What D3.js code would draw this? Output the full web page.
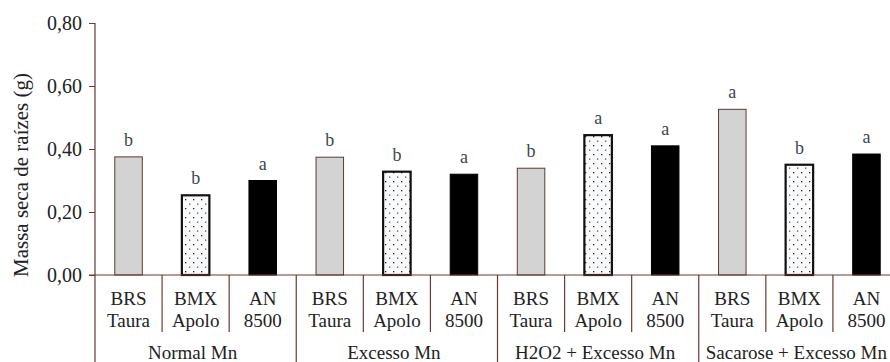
<!DOCTYPE html>
<html>
<head>
<meta charset="utf-8">
<script src="https://cdn.jsdelivr.net/npm/d3@7"></script>
</head>
<body style="margin:0;background:#fff">
<svg id="chart" width="890" height="362" style="display:block"></svg>
<script>
const groups = ["Normal Mn", "Excesso Mn", "H2O2 + Excesso Mn", "Sacarose + Excesso Mn"];
const cultivars = ["BRS Taura", "BMX Apolo", "AN 8500"];
const cultivarLines = [["BRS", "Taura"], ["BMX", "Apolo"], ["AN", "8500"]];
const brsTaura = [0.375, 0.374, 0.339, 0.526];
const bmxApolo = [0.253, 0.328, 0.444, 0.350];
const an8500 = [0.300, 0.320, 0.410, 0.384];
const brsLetters = ["b", "b", "b", "a"];
const bmxLetters = ["b", "b", "a", "b"];
const anLetters = ["a", "a", "a", "a"];
const yTicks = [0, 0.2, 0.4, 0.6, 0.8];
const yTitle = "Massa seca de raízes (g)";

const seriesValues = [brsTaura, bmxApolo, an8500];
const seriesLetters = [brsLetters, bmxLetters, anLetters];

const FONT = "'Liberation Serif'";
const svg = d3.select("#chart");
const lineColor = "#6a3a32";
const x0 = 95, x1 = 900, yTop = 23, yZero = 275;

const y = d3.scaleLinear().domain([0, 0.8]).range([yZero, yTop]);
const xg = d3.scaleBand().domain(groups).range([x0, x1]).padding(0);
const xc = d3.scaleBand().domain(cultivars).range([0, xg.bandwidth()]).padding(0);
const barW = xc.bandwidth() * 0.41;

const defs = svg.append("defs");
const pat = defs.append("pattern").attr("id", "dots").attr("patternUnits", "userSpaceOnUse")
  .attr("width", 8).attr("height", 9);
pat.append("rect").attr("width", 8).attr("height", 9).attr("fill", "#fbfbfb");
pat.append("rect").attr("x", 1).attr("y", 1).attr("width", 1.3).attr("height", 1.3).attr("fill", "#222");
pat.append("rect").attr("x", 5).attr("y", 5.5).attr("width", 1.3).attr("height", 1.3).attr("fill", "#3a6080");

const records = [];
groups.forEach((g, gi) => {
  cultivars.forEach((c, ci) => {
    records.push({ g, c, ci, v: seriesValues[ci][gi], letter: seriesLetters[ci][gi] });
  });
});

const styles = [
  { fill: "#d3d3d3", stroke: "#5a3a30", sw: 1 },
  { fill: "url(#dots)", stroke: "#111", sw: 2.2 },
  { fill: "#000", stroke: "#000", sw: 1 }
];

const cx = d => xg(d.g) + xc(d.c) + xc.bandwidth() / 2;

svg.append("g").selectAll("rect").data(records).join("rect")
  .attr("x", d => cx(d) - barW / 2)
  .attr("y", d => y(d.v))
  .attr("width", barW)
  .attr("height", d => y(0) - y(d.v))
  .attr("fill", d => styles[d.ci].fill)
  .attr("stroke", d => styles[d.ci].stroke)
  .attr("stroke-width", d => styles[d.ci].sw);

svg.append("g").selectAll("text").data(records).join("text")
  .attr("x", d => cx(d))
  .attr("y", d => y(d.v) - 11)
  .attr("text-anchor", "middle")
  .attr("font-size", 18)
  .attr("fill", "#3c4650")
  .style("font-family", FONT)
  .text(d => d.letter);

const yAxis = d3.axisLeft(y).tickValues(yTicks).tickSize(6).tickPadding(7)
  .tickFormat(d => d3.format(".2f")(d).replace(".", ","));
const ya = svg.append("g").attr("transform", `translate(${x0},0)`).call(yAxis);
ya.select(".domain").remove();
ya.selectAll(".tick line").attr("stroke", lineColor);
ya.selectAll(".tick text").attr("font-size", 20).attr("fill", "#222").style("font-family", FONT);

svg.append("line").attr("x1", x0).attr("x2", x0).attr("y1", yTop).attr("y2", 362)
  .attr("stroke", lineColor).attr("stroke-width", 1.2);
svg.append("line").attr("x1", x0 - 6).attr("x2", 890).attr("y1", yZero).attr("y2", yZero)
  .attr("stroke", lineColor).attr("stroke-width", 1.2);

const seps = [];
groups.forEach((g, gi) => {
  cultivars.forEach((c, ci) => {
    if (ci > 0) seps.push({ x: xg(g) + xc(c), full: false });
  });
  if (gi > 0) seps.push({ x: xg(g), full: true });
});
svg.append("g").selectAll("line").data(seps).join("line")
  .attr("x1", d => d.x).attr("x2", d => d.x)
  .attr("y1", yZero).attr("y2", d => d.full ? 362 : 332)
  .attr("stroke", lineColor).attr("stroke-width", 1.2);

const labG = svg.append("g");
groups.forEach(g => {
  cultivars.forEach((c, ci) => {
    const xm = xg(g) + xc(c) + xc.bandwidth() / 2;
    cultivarLines[ci].forEach((ln, li) => {
      labG.append("text")
        .attr("x", xm).attr("y", 305 + li * 22)
        .attr("text-anchor", "middle")
        .attr("font-size", 19).attr("fill", "#222")
        .style("font-family", FONT)
        .text(ln);
    });
  });
});

svg.append("g").selectAll("text").data(groups).join("text")
  .attr("x", d => xg(d) + xg.bandwidth() / 2 - 3)
  .attr("y", 359)
  .attr("text-anchor", "middle")
  .attr("font-size", 19).attr("fill", "#222")
  .style("font-family", FONT)
  .text(d => d);

svg.append("text")
  .attr("transform", "translate(28,175) rotate(-90)")
  .attr("text-anchor", "middle")
  .attr("font-size", 21).attr("fill", "#222")
  .style("font-family", FONT)
  .text(yTitle);
</script>
</body>
</html>
